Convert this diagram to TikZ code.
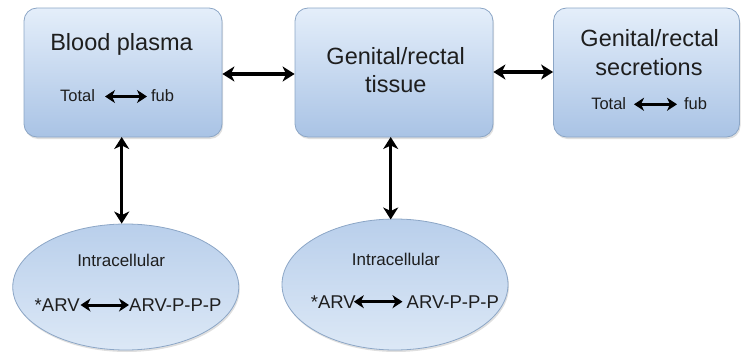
\documentclass[tikz,border=0pt]{standalone}
\usepackage{fontspec}
\setmainfont{Liberation Sans}
\usetikzlibrary{arrows.meta,shadows,shapes.geometric}
\definecolor{boxtop}{HTML}{E4EEFA}
\definecolor{boxbot}{HTML}{A9C3E5}
\definecolor{boxline}{HTML}{8CA6C6}
\definecolor{elltop}{HTML}{B9CFEB}
\definecolor{ellbot}{HTML}{DCE8F6}
\definecolor{txt}{HTML}{1E1E1E}
\begin{document}
\begin{tikzpicture}[x=1pt,y=-1pt,
  compbox/.style={draw=boxline, line width=0.8pt, rounded corners=13pt,
    top color=boxtop, bottom color=boxbot, inner sep=0pt,
    drop shadow={shadow xshift=1pt, shadow yshift=-2pt, opacity=0.25}},
  cellell/.style={ellipse, draw=boxline, line width=0.8pt,
    top color=elltop, bottom color=ellbot, inner sep=0pt,
    drop shadow={shadow xshift=1pt, shadow yshift=-2pt, opacity=0.25}},
  big/.style={font=\fontsize{23.5}{28}\selectfont, text=txt, anchor=base, inner sep=0pt},
  small/.style={font=\fontsize{16.5}{20}\selectfont, text=txt, anchor=base, inner sep=0pt},
  mid/.style={font=\fontsize{17}{20}\selectfont, text=txt, anchor=base, inner sep=0pt},
  arv/.style={font=\fontsize{18.5}{22}\selectfont, text=txt, anchor=base, inner sep=0pt},
  bigarrow/.style={line width=3.4pt, {Stealth[length=12pt,width=15pt,inset=3.5pt]}-{Stealth[length=12pt,width=15pt,inset=3.5pt]}},
  smallarrow/.style={line width=3pt, {Stealth[length=10pt,width=13pt,inset=3pt]}-{Stealth[length=10pt,width=13pt,inset=3pt]}},
]
\useasboundingbox (0,0) rectangle (742,356);

% boxes
\node[compbox, minimum width=198pt, minimum height=129pt] (b1) at (123,72.5) {};
\node[compbox, minimum width=198pt, minimum height=129pt] (b2) at (394,72.5) {};
\node[compbox, minimum width=186pt, minimum height=129pt] (b3) at (646.5,72.5) {};

% ellipses
\node[cellell, minimum width=226pt, minimum height=126pt] (e1) at (125.75,287) {};
\node[cellell, minimum width=226pt, minimum height=131pt] (e2) at (395,284.5) {};

% box 1 text
\node[big] (t1) at (121.5,50) {Blood plasma};
\node[small] (tot1) at (77.5,101.7) {Total};
\node[small] (fub1) at (162.5,101.7) {fub};
\coordinate (a1l) at (105,96.5);
\coordinate (a1r) at (147,96.5);
\draw[smallarrow] (a1l) -- (a1r);

% box 2 text
\node[big] (t2a) at (395.7,64) {Genital/rectal};
\node[big] (t2b) at (395.8,92) {tissue};

% box 3 text
\node[big] (t3a) at (649.7,46.7) {Genital/rectal};
\node[big] (t3b) at (649,75) {secretions};
\node[small] (tot3) at (608.7,109.3) {Total};
\node[small] (fub3) at (695.5,109.3) {fub};
\coordinate (a3l) at (634,104.3);
\coordinate (a3r) at (677,104.3);
\draw[smallarrow] (a3l) -- (a3r);

% ellipse 1 text
\node[mid] (i1) at (121.2,266.7) {Intracellular};
\node[arv] (arv1) at (57.2,311.7) {*ARV};
\node[arv] (ppp1) at (175.3,311.7) {ARV-P-P-P};
\coordinate (c1l) at (80.5,305);
\coordinate (c1r) at (129,305);
\draw[smallarrow] (c1l) -- (c1r);

% ellipse 2 text
\node[mid] (i2) at (395.8,265.5) {Intracellular};
\node[arv] (arv2) at (333.3,308.3) {*ARV};
\node[arv] (ppp2) at (452.8,308.3) {ARV-P-P-P};
\coordinate (c2l) at (353.8,301.7);
\coordinate (c2r) at (402.5,301.7);
\draw[smallarrow] (c2l) -- (c2r);

% connectors
\draw[bigarrow] (b1.east |- 0,74) -- (b2.west |- 0,74);
\draw[bigarrow] (b2.east |- 0,72) -- (b3.west |- 0,72);
\draw[bigarrow] (121.7,137) coordinate (v1t) -- (v1t |- e1.north);
\draw[bigarrow] (390.7,137) coordinate (v2t) -- (390.7,219.5) coordinate (v2b);
\end{tikzpicture}
\end{document}
